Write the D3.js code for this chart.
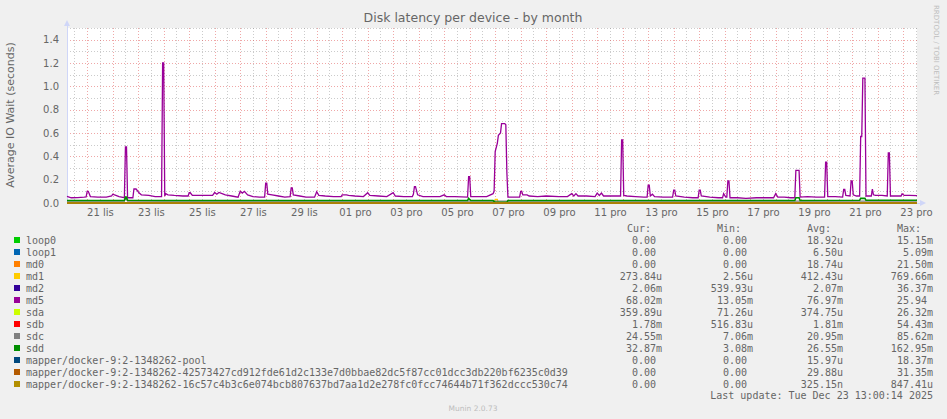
<!DOCTYPE html>
<html>
<head>
<meta charset="utf-8">
<script src="https://cdn.jsdelivr.net/npm/d3@7"></script>
<style>
  html, body { margin: 0; padding: 0; background: #f0f0f0; }
  svg { display: block; }
</style>
</head>
<body>
<svg id="chart" width="947" height="419"></svg>
<script>
// ---- data ----
const timeStart = "11-20 05";
const timeEnd = "12-23 13";
const yTicks = [0, 0.2, 0.4, 0.6, 0.8, 1.0, 1.2, 1.4];
const czMonths = ["led", "úno", "bře", "dub", "kvě", "čvn", "čvc", "srp", "zář", "říj", "lis", "pro"];

const devices = ["loop0", "loop1", "md0", "md1", "md2", "md5", "sda", "sdb", "sdc", "sdd",
    "mapper/docker-9:2-1348262-pool",
    "mapper/docker-9:2-1348262-42573427cd912fde61d2c133e7d0bbae82dc5f87cc01dcc3db220bf6235c0d39",
    "mapper/docker-9:2-1348262-16c57c4b3c6e074bcb807637bd7aa1d2e278fc0fcc74644b71f362dccc530c74"];
const colors = ["#00CC00", "#0066B3", "#FF8000", "#FFCC00", "#330099", "#990099", "#CCFF00",
    "#FF0000", "#808080", "#008F00", "#00487D", "#B35A00", "#B38F00"];
const curValues = ["0.00", "0.00", "0.00", "273.84u", "2.06m", "68.02m", "359.89u", "1.78m", "24.55m", "32.87m", "0.00", "0.00", "0.00"];
const minValues = ["0.00", "0.00", "0.00", "2.56u", "539.93u", "13.05m", "71.26u", "516.83u", "7.06m", "3.08m", "0.00", "0.00", "0.00"];
const avgValues = ["18.92u", "6.50u", "18.74u", "412.43u", "2.07m", "76.97m", "374.75u", "1.81m", "20.95m", "26.55m", "15.97u", "29.88u", "325.15n"];
const maxValues = ["15.15m", "5.09m", "21.50m", "769.66m", "36.37m", "25.94", "26.32m", "54.43m", "85.62m", "162.95m", "18.37m", "31.35m", "847.41u"];

const loop0Points = [["11-20 05", 0.0], ["12-23 13", 0.0]];
const loop1Points = [["11-20 05", 0.0], ["12-23 13", 0.0]];
const md0Points = [["11-20 05", 0.0], ["12-23 13", 0.0]];
const md1Points = [["11-20 05", 0.0003], ["12-06 23", 0.0003], ["12-07 00", 0.03], ["12-07 02", 0.03],
    ["12-07 03", 0.0005], ["12-23 13", 0.0003]];
const md2Points = [["11-20 05", 0.002], ["12-23 13", 0.002]];
const md5Points = [
    ["11-20 05", 0.056], ["11-20 09", 0.045], ["11-20 15", 0.046], ["11-20 21", 0.05], ["11-20 23", 0.052],
    ["11-21 00", 0.10], ["11-21 01", 0.10], ["11-21 03", 0.055], ["11-21 10", 0.05], ["11-21 18", 0.05],
    ["11-21 23", 0.06], ["11-22 00", 0.075], ["11-22 03", 0.065], ["11-22 06", 0.055], ["11-22 11", 0.045],
    ["11-22 12", 0.48], ["11-22 13", 0.48], ["11-22 14", 0.045], ["11-22 19", 0.045], ["11-22 20", 0.12],
    ["11-22 22", 0.12], ["11-23 01", 0.085], ["11-23 03", 0.07], ["11-23 10", 0.065], ["11-23 16", 0.055],
    ["11-23 22", 0.055], ["11-23 23", 1.2], ["11-24 00", 1.2], ["11-24 01", 0.06], ["11-24 02", 0.08],
    ["11-24 04", 0.07], ["11-24 10", 0.065], ["11-24 18", 0.06], ["11-24 23", 0.06], ["11-25 00", 0.088],
    ["11-25 01", 0.088], ["11-25 03", 0.065], ["11-25 12", 0.065], ["11-25 22", 0.065], ["11-26 00", 0.09],
    ["11-26 02", 0.075], ["11-26 04", 0.09], ["11-26 07", 0.08], ["11-26 10", 0.07], ["11-26 16", 0.06],
    ["11-26 22", 0.05], ["11-27 00", 0.10], ["11-27 02", 0.085], ["11-27 04", 0.10], ["11-27 07", 0.07],
    ["11-27 12", 0.055], ["11-27 18", 0.05], ["11-27 23", 0.05], ["11-28 00", 0.17], ["11-28 01", 0.17],
    ["11-28 02", 0.075], ["11-28 06", 0.07], ["11-28 12", 0.06], ["11-28 18", 0.05], ["11-28 23", 0.055],
    ["11-29 00", 0.13], ["11-29 01", 0.13], ["11-29 02", 0.07], ["11-29 08", 0.06], ["11-29 14", 0.05],
    ["11-29 22", 0.05], ["11-30 00", 0.097], ["11-30 02", 0.065], ["11-30 08", 0.06], ["11-30 16", 0.055],
    ["11-30 23", 0.055], ["12-01 00", 0.07], ["12-01 04", 0.07], ["12-01 06", 0.065], ["12-01 12", 0.06],
    ["12-01 20", 0.055], ["12-02 00", 0.088], ["12-02 02", 0.065], ["12-02 10", 0.06], ["12-02 18", 0.055],
    ["12-03 00", 0.088], ["12-03 02", 0.06], ["12-03 10", 0.055], ["12-03 18", 0.055], ["12-03 19", 0.075],
    ["12-03 20", 0.14], ["12-03 21", 0.14], ["12-03 23", 0.07], ["12-04 04", 0.055], ["12-04 12", 0.055],
    ["12-04 20", 0.055], ["12-05 00", 0.07], ["12-05 02", 0.055], ["12-05 10", 0.055], ["12-05 22", 0.05],
    ["12-05 23", 0.225], ["12-06 00", 0.225], ["12-06 01", 0.055], ["12-06 08", 0.055], ["12-06 16", 0.055],
    ["12-06 22", 0.08], ["12-06 23", 0.10], ["12-07 00", 0.44], ["12-07 02", 0.51], ["12-07 03", 0.58],
    ["12-07 05", 0.60], ["12-07 06", 0.68], ["12-07 09", 0.68], ["12-07 10", 0.67], ["12-07 11", 0.26],
    ["12-07 12", 0.05], ["12-07 18", 0.05], ["12-07 23", 0.05], ["12-08 00", 0.10], ["12-08 01", 0.10],
    ["12-08 02", 0.07], ["12-08 06", 0.07], ["12-08 08", 0.06], ["12-08 16", 0.055], ["12-09 00", 0.06],
    ["12-09 12", 0.055], ["12-09 20", 0.055], ["12-10 00", 0.08], ["12-10 02", 0.06], ["12-10 04", 0.08],
    ["12-10 06", 0.06], ["12-10 14", 0.06], ["12-10 22", 0.055], ["12-11 00", 0.085], ["12-11 02", 0.065],
    ["12-11 04", 0.085], ["12-11 06", 0.06], ["12-11 14", 0.06], ["12-11 22", 0.06], ["12-11 23", 0.54],
    ["12-12 00", 0.54], ["12-12 01", 0.065], ["12-12 04", 0.06], ["12-12 12", 0.055], ["12-12 20", 0.05],
    ["12-12 23", 0.05], ["12-13 00", 0.154], ["12-13 01", 0.154], ["12-13 02", 0.06], ["12-13 04", 0.075],
    ["12-13 06", 0.055], ["12-13 14", 0.05], ["12-13 23", 0.05], ["12-14 00", 0.11], ["12-14 01", 0.11],
    ["12-14 02", 0.06], ["12-14 10", 0.05], ["12-14 18", 0.045], ["12-14 23", 0.045], ["12-15 00", 0.11],
    ["12-15 01", 0.11], ["12-15 02", 0.06], ["12-15 10", 0.05], ["12-15 18", 0.045], ["12-15 22", 0.045],
    ["12-15 23", 0.08], ["12-16 01", 0.05], ["12-16 02", 0.05], ["12-16 03", 0.19], ["12-16 04", 0.19],
    ["12-16 05", 0.045], ["12-16 12", 0.045], ["12-16 20", 0.04], ["12-17 06", 0.045], ["12-17 14", 0.045],
    ["12-17 22", 0.045], ["12-18 00", 0.08], ["12-18 02", 0.05], ["12-18 08", 0.05], ["12-18 14", 0.045],
    ["12-18 18", 0.045], ["12-18 19", 0.28], ["12-18 22", 0.28], ["12-18 23", 0.05], ["12-19 06", 0.055],
    ["12-19 14", 0.05], ["12-19 22", 0.05], ["12-19 23", 0.35], ["12-20 00", 0.35], ["12-20 01", 0.055],
    ["12-20 08", 0.055], ["12-20 15", 0.05], ["12-20 16", 0.117], ["12-20 17", 0.117], ["12-20 18", 0.065],
    ["12-20 22", 0.06], ["12-20 23", 0.19], ["12-21 00", 0.19], ["12-21 01", 0.07], ["12-21 04", 0.06],
    ["12-21 07", 0.06], ["12-21 08", 0.57], ["12-21 09", 0.57], ["12-21 10", 1.07], ["12-21 12", 1.07],
    ["12-21 13", 0.06], ["12-21 18", 0.06], ["12-21 19", 0.12], ["12-21 20", 0.07], ["12-21 22", 0.065],
    ["12-22 04", 0.065], ["12-22 09", 0.06], ["12-22 10", 0.43], ["12-22 11", 0.43], ["12-22 12", 0.06],
    ["12-22 18", 0.06], ["12-22 22", 0.06], ["12-22 23", 0.08], ["12-23 01", 0.065], ["12-23 06", 0.065],
    ["12-23 13", 0.063]];
const sdaPoints = [["11-20 05", 0.0004], ["12-23 13", 0.0004]];
const sdbPoints = [["11-20 05", 0.0018], ["12-23 13", 0.0018]];
const sdcPoints = [["11-20 05", 0.016], ["11-22 11", 0.016], ["11-22 12", 0.045], ["11-22 14", 0.016],
    ["12-23 13", 0.016]];
const sddPoints = [["11-20 05", 0.021], ["11-22 11", 0.021], ["11-22 12", 0.05], ["11-22 13", 0.05],
    ["11-22 14", 0.023], ["11-24 00", 0.022], ["12-05 22", 0.021], ["12-05 23", 0.04], ["12-06 01", 0.021],
    ["12-06 22", 0.021], ["12-07 00", 0.005], ["12-07 11", 0.005], ["12-07 12", 0.021], ["12-18 18", 0.021],
    ["12-18 19", 0.045], ["12-18 22", 0.045], ["12-18 23", 0.021], ["12-21 07", 0.023], ["12-21 08", 0.04],
    ["12-21 12", 0.04], ["12-21 13", 0.023], ["12-23 13", 0.024]];
const poolPoints = [["11-20 05", 0.0], ["12-23 13", 0.0]];
const mapperAPoints = [["11-20 05", 0.0], ["12-23 13", 0.0]];
const mapperBPoints = [["11-20 05", 0.0], ["12-23 13", 0.0]];

const seriesPoints = [loop0Points, loop1Points, md0Points, md1Points, md2Points, md5Points, sdaPoints,
    sdbPoints, sdcPoints, sddPoints, poolPoints, mapperAPoints, mapperBPoints];

// ---- layout ----
const margin = { left: 67, top: 28 };
const width = 947, height = 419;
const plotRight = 917, plotBottom = 203;
const sansFont = "DejaVu Sans, sans-serif";
const monoFont = "DejaVu Sans Mono, monospace";
const fontColor = "#666";

const parseT = s => d3.timeParse("%Y-%m-%d %H")("2025-" + s);

const svg = d3.select("#chart");
svg.append("rect").attr("width", width).attr("height", height).attr("fill", "#f0f0f0");

const x = d3.scaleTime()
    .domain([parseT(timeStart), parseT(timeEnd)])
    .range([margin.left, plotRight]);
const y = d3.scaleLinear()
    .domain([0, 1.5])
    .range([plotBottom, margin.top]);
const innerWidth = plotRight - margin.left;
const innerHeight = plotBottom - margin.top;

// canvas
svg.append("rect")
    .attr("x", margin.left).attr("y", margin.top)
    .attr("width", innerWidth).attr("height", innerHeight)
    .attr("fill", "#fff");

// grid (dotted, minor grey, major red)
const gridGray = "rgba(140,140,140,0.45)";
const gridRed = "rgba(220,60,60,0.45)";
const minorY = d3.range(1, 16, 2).map(d => d / 10);
const drawGrid = (axis, transform, color) => {
    const g = svg.append("g").attr("transform", transform).call(axis);
    g.select(".domain").remove();
    g.selectAll("text").remove();
    g.selectAll("line")
        .attr("stroke", color)
        .attr("stroke-dasharray", "1,2")
        .attr("shape-rendering", "crispEdges");
};
const [t0, t1] = x.domain();
drawGrid(d3.axisLeft(y).tickValues(minorY).tickSize(-innerWidth),
    `translate(${margin.left},0)`, gridGray);
drawGrid(d3.axisBottom(x).tickValues(d3.timeHour.every(12).range(t0, t1).filter(d => d.getHours() === 12))
    .tickSize(-innerHeight), `translate(0,${plotBottom})`, gridGray);
drawGrid(d3.axisLeft(y).tickValues(yTicks.slice(1)).tickSize(-innerWidth),
    `translate(${margin.left},0)`, gridRed);
drawGrid(d3.axisBottom(x).tickValues(d3.timeDay.range(t0, t1))
    .tickSize(-innerHeight), `translate(0,${plotBottom})`, gridRed);

// tick labels
const yAxisG = svg.append("g")
    .attr("transform", `translate(${margin.left},0)`)
    .call(d3.axisLeft(y).tickValues(yTicks).tickFormat(d3.format(".1f")).tickSize(0).tickPadding(8))
    .attr("font-family", sansFont).attr("font-size", 10);
yAxisG.select(".domain").remove();
yAxisG.selectAll("text").attr("fill", fontColor);

const labelDays = d3.timeDay.every(2).range(t0, t1).map(d => d3.timeHour.offset(d, 12));
const xAxisG = svg.append("g")
    .attr("transform", `translate(0,${plotBottom})`)
    .call(d3.axisBottom(x).tickValues(labelDays)
        .tickFormat(d => d3.timeFormat("%d")(d) + " " + czMonths[d.getMonth()])
        .tickSize(0).tickPadding(6))
    .attr("font-family", sansFont).attr("font-size", 10);
xAxisG.select(".domain").remove();
xAxisG.selectAll("text").attr("fill", fontColor);

// axes lines + arrows (under the data)
const axisColor = "#CFD6F8";
svg.append("line").attr("x1", margin.left).attr("x2", margin.left)
    .attr("y1", plotBottom).attr("y2", 24).attr("stroke", axisColor).attr("shape-rendering", "crispEdges");
svg.append("line").attr("x1", margin.left).attr("x2", 922)
    .attr("y1", plotBottom).attr("y2", plotBottom).attr("stroke", axisColor).attr("shape-rendering", "crispEdges");
svg.append("path").attr("d", `M${margin.left - 3},26 L${margin.left},20 L${margin.left + 3},26 Z`).attr("fill", axisColor);
svg.append("path").attr("d", `M920,${plotBottom - 3} L926,${plotBottom} L920,${plotBottom + 3} Z`).attr("fill", axisColor);

// series lines
const line = d3.line()
    .x(d => x(parseT(d[0])))
    .y(d => y(d[1]));
seriesPoints.forEach((pts, i) => {
    svg.append("path")
        .attr("d", line(pts))
        .attr("fill", "none")
        .attr("stroke", colors[i])
        .attr("stroke-width", i === 9 ? 1.6 : 1.3)
        .attr("stroke-linejoin", "miter");
});

// title + labels
svg.append("text")
    .attr("x", 473).attr("y", 22)
    .attr("text-anchor", "middle")
    .attr("fill", fontColor)
    .attr("font-family", sansFont).attr("font-size", 12.5)
    .text("Disk latency per device - by month");
svg.append("text")
    .attr("transform", `translate(14,115) rotate(-90)`)
    .attr("text-anchor", "middle")
    .attr("fill", fontColor)
    .attr("font-family", sansFont).attr("font-size", 11)
    .text("Average IO Wait (seconds)");
svg.append("text")
    .attr("transform", `translate(934,5) rotate(90)`)
    .attr("fill", "#bdbdbd")
    .attr("font-family", sansFont).attr("font-size", 7)
    .text("RRDTOOL / TOBI OETIKER");
svg.append("text")
    .attr("x", 473).attr("y", 411)
    .attr("text-anchor", "middle")
    .attr("fill", "#bdbdbd")
    .attr("font-family", sansFont).attr("font-size", 7.5)
    .text("Munin 2.0.73");

// legend
const rowTop = 240, rowStep = 12, charW = 6.02;
const columns = [
    { head: "Cur:", headX: 627, right: 662, values: curValues },
    { head: "Min:", headX: 717, right: 753, values: minValues },
    { head: "Avg:", headX: 807, right: 843, values: avgValues },
    { head: "Max:", headX: 897, right: 933, values: maxValues },
];
const legendText = (sel) => sel.attr("font-family", monoFont).attr("font-size", 10).attr("fill", fontColor);
const legend = svg.append("g");
columns.forEach(c => {
    legend.append("text").attr("x", c.headX).attr("y", rowTop - rowStep + 3.6).call(legendText).text(c.head);
});
devices.forEach((name, i) => {
    const cy = rowTop + i * rowStep;
    legend.append("rect")
        .attr("x", 14).attr("y", cy - 3).attr("width", 6).attr("height", 6)
        .attr("fill", colors[i]);
    legend.append("text").attr("x", 26).attr("y", cy + 3.6).call(legendText).text(name);
    columns.forEach(c => {
        const v = c.values[i];
        legend.append("text")
            .attr("x", c.right - (/\d$/.test(v) ? charW : 0))
            .attr("y", cy + 3.6)
            .attr("text-anchor", "end")
            .call(legendText)
            .text(v);
    });
});
legend.append("text")
    .attr("x", 933).attr("y", rowTop + devices.length * rowStep + 2.6)
    .attr("text-anchor", "end")
    .call(legendText)
    .text("Last update: Tue Dec 23 13:00:14 2025");
</script>
</body>
</html>
